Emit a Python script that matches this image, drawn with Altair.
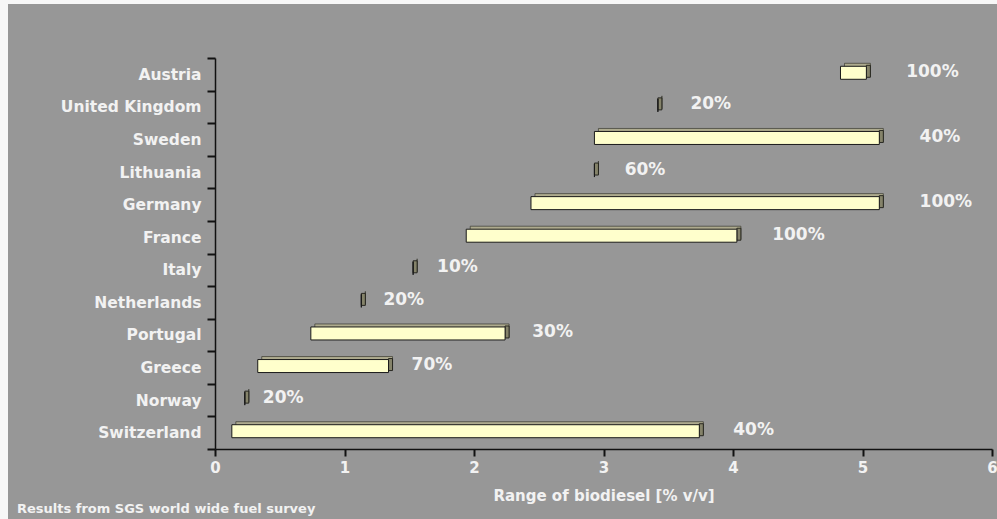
import altair as alt
import pandas as pd

# Biodiesel content ranges found per country, with the share of samples containing biodiesel
countries = ["Austria", "United Kingdom", "Sweden", "Lithuania", "Germany", "France",
             "Italy", "Netherlands", "Portugal", "Greece", "Norway", "Switzerland"]
range_low = [4.83, 3.42, 2.93, 2.93, 2.44, 1.94, 1.53, 1.13, 0.74, 0.33, 0.23, 0.13]
range_high = [5.03, 3.42, 5.13, 2.93, 5.13, 4.03, 1.53, 1.13, 2.24, 1.34, 0.23, 3.74]
share_pct = [100, 20, 40, 60, 100, 100, 10, 20, 30, 70, 20, 40]

x_ticks = [0, 1, 2, 3, 4, 5, 6]
x_title = "Range of biodiesel [% v/v]"
footnote = "Results from SGS world wide fuel survey"

df = pd.DataFrame({
    "country": countries,
    "low": range_low,
    "high": range_high,
    "share": share_pct,
})
df["share_label"] = [f"{p}%" for p in share_pct]

W, H = 777, 391
PAD_L, PAD_T, PAD_R, PAD_B = 215, 58, 5, 70
BAR_H = 13
PANEL = "#979797"
MARGIN = "#f7f7f7"
TEXT = "#f2f2f2"
INK = "#111111"

x_scale = alt.Scale(domain=[0, 6], nice=False, zero=True)
x_axis = alt.Axis(values=x_ticks, format="d", title=x_title, ticks=True)
y_enc = alt.Y(
    "country:N",
    sort=countries,
    scale=alt.Scale(paddingInner=0, paddingOuter=0),
    axis=alt.Axis(title=None, tickBand="extent"),
)

one_row = pd.DataFrame({"t": [footnote]})

# thin pale margins along the left and top edges of the grey canvas
left_margin = alt.Chart(one_row).mark_rect(color=MARGIN).encode(
    x=alt.value(-PAD_L), x2=alt.value(-PAD_L + 8),
    y=alt.value(-PAD_T), y2=alt.value(H + PAD_B),
)
top_margin = alt.Chart(one_row).mark_rect(color=MARGIN).encode(
    x=alt.value(-PAD_L), x2=alt.value(W + PAD_R),
    y=alt.value(-PAD_T), y2=alt.value(-PAD_T + 4),
)

base = alt.Chart(df)

# top face of the extruded bar (shifted up and to the right)
top_face = base.mark_bar(
    height=BAR_H, xOffset=4, x2Offset=4, yOffset=-4.5,
    fill="#aeab8e", stroke="#3a3a30", strokeWidth=0.7,
).encode(x=alt.X("low:Q", scale=x_scale, axis=x_axis), x2="high:Q", y=y_enc)

# right-hand side face
side_face = base.mark_bar(
    height=BAR_H - 1, x2Offset=4, yOffset=-3,
    fill="#85836a", stroke="#1e1e18", strokeWidth=0.9,
).encode(x=alt.X("high:Q", scale=x_scale, axis=x_axis), x2="high:Q", y=y_enc)

# front face
front_face = base.mark_bar(
    height=BAR_H, yOffset=-1.5,
    fill="#ffffcc", stroke="#1a1a1a", strokeWidth=1,
).encode(x=alt.X("low:Q", scale=x_scale, axis=x_axis), x2="high:Q", y=y_enc)

# share labels: anchor drifts a little to the right for wider ranges
labels = base.transform_calculate(
    lx="datum.high * 1.035"
).mark_text(
    align="left", baseline="middle", dx=17, dy=-2.5,
    font="DejaVu Sans", fontWeight="bold", fontSize=17, color=TEXT,
).encode(x=alt.X("lx:Q", scale=x_scale, axis=x_axis), y=y_enc, text="share_label:N")

note = alt.Chart(one_row).mark_text(
    align="left", baseline="alphabetic",
    font="DejaVu Sans", fontWeight="bold", fontSize=13, color=TEXT,
).encode(x=alt.value(-PAD_L + 17), y=alt.value(H + 64), text="t:N")

chart = (
    alt.layer(left_margin, top_margin, top_face, side_face, front_face, labels, note)
    .properties(
        width=W,
        height=H,
        padding={"left": PAD_L, "top": PAD_T, "right": PAD_R, "bottom": PAD_B},
        autosize=alt.AutoSizeParams(type="none"),
    )
    .configure(background=PANEL)
    .configure_view(stroke=None)
    .configure_axis(
        grid=False,
        domainColor=INK,
        domainWidth=1.5,
        tickColor=INK,
        tickWidth=2,
        labelFont="DejaVu Sans",
        labelFontWeight="bold",
        labelColor=TEXT,
        titleFont="DejaVu Sans",
        titleFontWeight="bold",
        titleColor=TEXT,
    )
    .configure_axisX(
        labelFontSize=15,
        labelPadding=4,
        labelFlush=False,
        tickSize=7,
        titleFontSize=15,
        titlePadding=13,
    )
    .configure_axisY(
        labelFontSize=15.5,
        labelPadding=6,
        tickSize=8,
    )
)

chart.save("out.html", embed_options={"renderer": "svg", "actions": False})
